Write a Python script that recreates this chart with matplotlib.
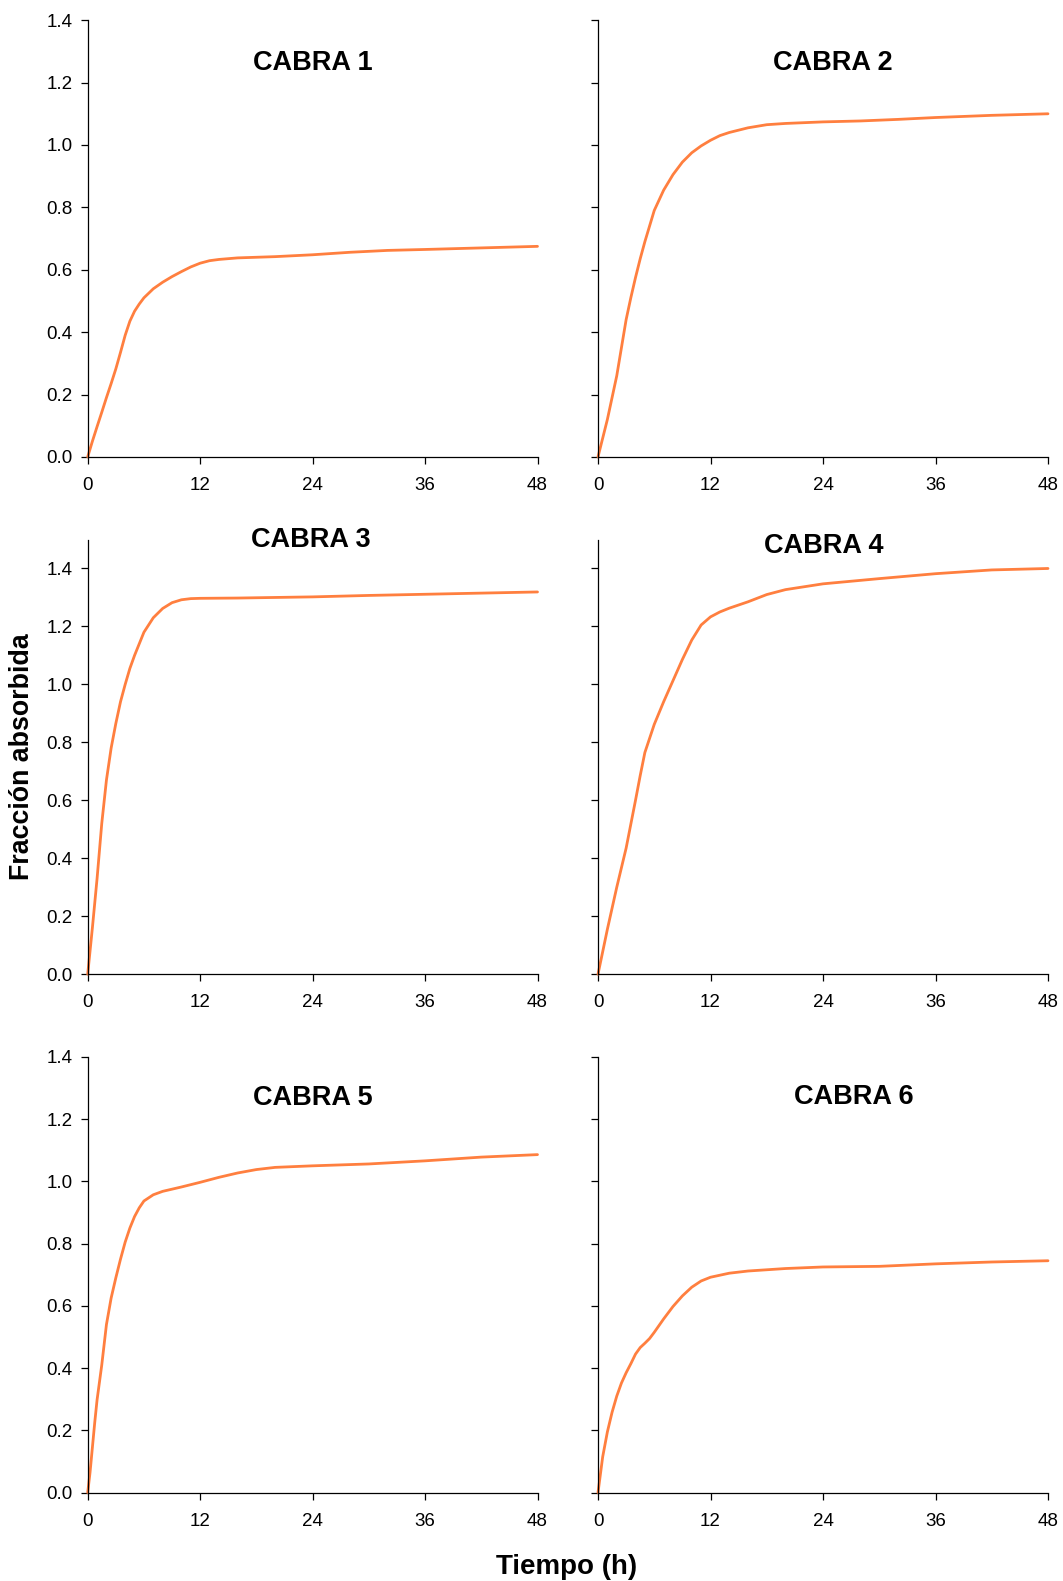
import matplotlib
matplotlib.use("Agg")
import matplotlib.pyplot as plt

plt.rcParams['font.family'] = ['Liberation Sans', 'DejaVu Sans']

# ---- data ----
t1 = [0, 0.5, 1, 1.5, 2, 2.5, 3, 3.5, 4, 4.5, 5, 5.5, 6, 7, 8, 9, 10, 11, 12, 13, 14,
      16, 20, 24, 28, 32, 36, 42, 48]
y1 = [0, 0.05, 0.097, 0.143, 0.19, 0.235, 0.282, 0.335, 0.39, 0.435, 0.467, 0.49, 0.51,
      0.539, 0.56, 0.578, 0.594, 0.609, 0.621, 0.629, 0.633, 0.638, 0.642, 0.648,
      0.656, 0.662, 0.665, 0.67, 0.675]

t2 = [0, 1, 1.5, 2, 2.5, 3, 3.5, 4, 4.5, 5, 6, 7, 8, 9, 10, 11, 12, 13, 14, 16, 18,
      20, 24, 28, 32, 36, 42, 48]
y2 = [0, 0.12, 0.19, 0.26, 0.35, 0.44, 0.51, 0.575, 0.635, 0.69, 0.79, 0.855, 0.905,
      0.945, 0.975, 0.997, 1.015, 1.03, 1.04, 1.055, 1.065, 1.069, 1.074, 1.077,
      1.082, 1.088, 1.095, 1.10]

t3 = [0, 0.5, 1, 1.5, 2, 2.5, 3, 3.5, 4, 4.5, 5, 6, 7, 8, 9, 10, 11, 12, 16, 24, 30,
      36, 42, 48]
y3 = [0, 0.16, 0.33, 0.52, 0.67, 0.78, 0.865, 0.94, 1.00, 1.055, 1.10, 1.18, 1.23,
      1.262, 1.282, 1.292, 1.296, 1.297, 1.298, 1.302, 1.307, 1.311, 1.315, 1.319]

t4 = [0, 1, 2, 3, 4, 4.5, 5, 6, 7, 8, 9, 10, 11, 12, 13, 14, 16, 18, 20, 24, 30, 36,
      42, 48]
y4 = [0, 0.155, 0.30, 0.435, 0.60, 0.685, 0.765, 0.862, 0.94, 1.013, 1.086, 1.153,
      1.205, 1.233, 1.25, 1.263, 1.285, 1.31, 1.327, 1.347, 1.365, 1.382, 1.395, 1.40]

t5 = [0, 0.25, 0.5, 0.75, 1, 1.5, 2, 2.5, 3, 3.5, 4, 4.5, 5, 5.5, 6, 7, 8, 10, 12, 14,
      16, 18, 20, 24, 30, 36, 42, 48]
y5 = [0, 0.065, 0.145, 0.225, 0.298, 0.41, 0.54, 0.625, 0.69, 0.75, 0.805, 0.85, 0.887,
      0.915, 0.937, 0.957, 0.968, 0.982, 0.997, 1.013, 1.027, 1.038, 1.045, 1.05,
      1.056, 1.066, 1.078, 1.086]

t6 = [0, 0.5, 1, 1.5, 2, 2.5, 3, 3.5, 4, 4.5, 5, 5.5, 6, 7, 8, 9, 10, 11, 12, 14, 16,
      20, 24, 30, 36, 42, 48]
y6 = [0, 0.115, 0.195, 0.258, 0.31, 0.352, 0.385, 0.414, 0.445, 0.466, 0.48, 0.495,
      0.515, 0.558, 0.598, 0.632, 0.66, 0.68, 0.692, 0.705, 0.712, 0.72, 0.725, 0.727,
      0.735, 0.741, 0.745]

titles = ["CABRA 1", "CABRA 2", "CABRA 3", "CABRA 4", "CABRA 5", "CABRA 6"]
series = [(t1, y1), (t2, y2), (t3, y3), (t4, y4), (t5, y5), (t6, y6)]
ymax = [1.4, 1.4, 1.5, 1.5, 1.4, 1.4]
title_pos = [(24, 1.263), (25, 1.263), (23.8, 1.498), (24.1, 1.479), (24, 1.267), (27.3, 1.27)]
xticks = [0, 12, 24, 36, 48]
yticks = [0.0, 0.2, 0.4, 0.6, 0.8, 1.0, 1.2, 1.4]

# ---- layout ----
W, H = 1063, 1581
fig = plt.figure(figsize=(W / 100, H / 100), dpi=100)
cols = [(87.7, 537.5), (598, 1048)]
rows = [(20.2, 456.9), (539.5, 974.2), (1056.9, 1492.6)]

color = '#FF7F3F'
for i, ((t, y), title) in enumerate(zip(series, titles)):
    r, c = divmod(i, 2)
    x0, x1 = cols[c]
    top, bot = rows[r]
    ax = fig.add_axes([x0 / W, 1 - bot / H, (x1 - x0) / W, (bot - top) / H])
    ax.plot(t, y, color=color, lw=2.0, solid_capstyle='round',
            solid_joinstyle='round', clip_on=False)
    ax.set_xlim(0, 48)
    ax.set_ylim(0, ymax[i])
    ax.set_xticks(xticks)
    ax.set_xticklabels([str(v) for v in xticks])
    ax.set_yticks(yticks)
    if c == 0:
        ax.set_yticklabels([f"{v:.1f}" for v in yticks])
    else:
        ax.set_yticklabels([])
    for s in ['top', 'right']:
        ax.spines[s].set_visible(False)
    for s in ['left', 'bottom']:
        ax.spines[s].set_linewidth(0.9)
        ax.spines[s].set_color('black')
    ax.tick_params(axis='both', direction='out', length=5, width=0.9,
                   labelsize=13.5, colors='black')
    ax.tick_params(axis='x', pad=9.5)
    ax.tick_params(axis='y', pad=6)
    tx, ty = title_pos[i]
    ax.text(tx, ty, title, ha='center', va='center', fontsize=19.5,
            fontweight='bold', clip_on=False)

fig.text(22 / W, 1 - 757 / H, "Fracción absorbida", rotation=90, ha='center',
         va='center', fontsize=19.3, fontweight='bold')
fig.text(567 / W, 1 - 1567 / H, "Tiempo (h)", ha='center', va='center',
         fontsize=20, fontweight='bold')

fig.savefig("out.png", dpi=100)
